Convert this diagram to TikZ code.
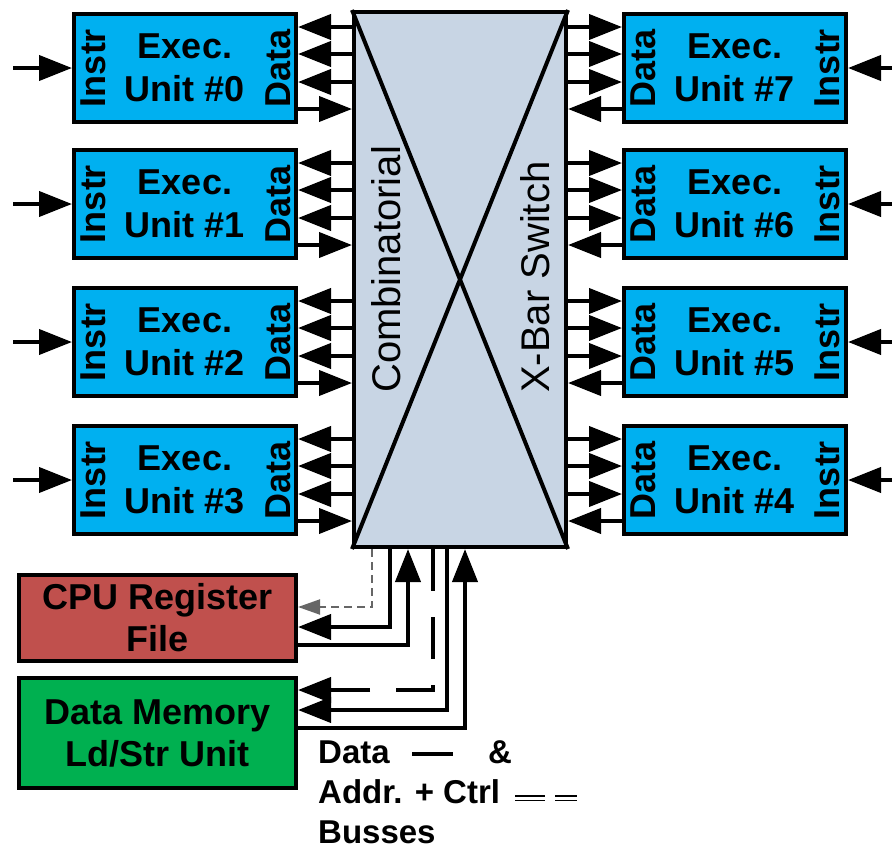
\documentclass[tikz,border=0pt]{standalone}
\usepackage{fontspec}
\setmainfont{Liberation Sans}
\usepackage{xcolor}
\usepackage{tikz}
\usetikzlibrary{arrows.meta,calc,positioning}

\definecolor{unitblue}{RGB}{0,176,240}
\definecolor{xbarfill}{RGB}{200,213,228}
\definecolor{regred}{RGB}{192,80,77}
\definecolor{memgreen}{RGB}{0,176,80}

\tikzset{
    unit/.style={draw, line width=4pt, fill=unitblue, minimum width=222pt, minimum height=108pt,
        inner sep=0pt, align=center, font=\fontsize{36}{43}\selectfont\bfseries},
    side/.style={rotate=90, inner sep=0pt, font=\fontsize{36}{43}\selectfont\bfseries},
    bus/.style={line width=4pt, -{Triangle[length=33pt,width=25pt]}},
    ctrlbus/.style={bus, dash pattern=on 42pt off 26pt},
    thinbus/.style={line width=2pt, black!60, dash pattern=on 8pt off 5pt, -{Triangle[length=22pt,width=15pt]}},
    legend/.style={inner sep=0pt, anchor=base west, font=\fontsize{33}{40}\selectfont\bfseries}
}

\begin{document}
\begin{tikzpicture}[x=1pt, y=-1pt]
    \useasboundingbox (0,0) rectangle (892,849);

    % crossbar
    \node[draw, line width=4pt, fill=xbarfill, minimum width=212pt, minimum height=535pt] (sw) at (460,279.5) {};
    \draw[line width=4pt] (sw.north west) -- (sw.south east) (sw.north east) -- (sw.south west);
    \node[rotate=90, anchor=west, inner sep=0pt, font=\fontsize{40}{46}\selectfont] (swl) at (386,393) {Combinatorial};
    \node[rotate=90, anchor=west, inner sep=0pt, font=\fontsize{40}{46}\selectfont] (swr) at (535,393) {X-Bar Switch};

    % left units
    \foreach \k/\top in {0/12, 1/148, 2/286, 3/424} {
        \node[unit] (u\k) at (185,{\top+56}) {Exec.\\Unit \#\k};
        \node[side] (u\k i) at ($(u\k.west)+(21,0)$) {Instr};
        \node[side] (u\k d) at ($(u\k.east)+(-20,0)$) {Data};
        \coordinate (in\k) at ($(u\k.west)+(-59,0)$);
        \draw[bus] (in\k) -- (u\k.west);
        \foreach \dy in {-41,-14,14} {
            \coordinate (p) at ($(u\k.east)+(0,\dy)$);
            \draw[bus] (sw.west |- p) -- (p);
        }
        \coordinate (p) at ($(u\k.east)+(0,41)$);
        \draw[bus] (p) -- (sw.west |- p);
    }

    % right units
    \foreach \k/\top in {7/12, 6/148, 5/286, 4/424} {
        \node[unit] (u\k) at (735,{\top+56}) {Exec.\\Unit \#\k};
        \node[side] (u\k d) at ($(u\k.west)+(21,0)$) {Data};
        \node[side] (u\k i) at ($(u\k.east)+(-21,0)$) {Instr};
        \coordinate (in\k) at ($(u\k.east)+(48,0)$);
        \draw[bus] (in\k) -- (u\k.east);
        \foreach \dy in {-41,-14,14} {
            \coordinate (p) at ($(u\k.west)+(0,\dy)$);
            \draw[bus] (sw.east |- p) -- (p);
        }
        \coordinate (p) at ($(u\k.west)+(0,41)$);
        \draw[bus] (p) -- (sw.east |- p);
    }

    % register file and load/store unit
    \node[draw, line width=4pt, fill=regred, minimum width=277pt, minimum height=86pt, align=center,
        font=\fontsize{36}{42}\selectfont\bfseries] (rf) at (157.5,618) {CPU Register\\File};
    \node[draw, line width=4pt, fill=memgreen, minimum width=277pt, minimum height=110pt, align=center,
        font=\fontsize{36}{42}\selectfont\bfseries] (dm) at (157.5,733) {Data Memory\\Ld/Str Unit};

    \coordinate (t1) at (372,607);
    \coordinate (t2) at (390,627);
    \coordinate (t3) at (408,645);
    \coordinate (t4) at (433,690);
    \coordinate (t5) at (447,710);
    \coordinate (t6) at (465,728);
    \draw[thinbus] (sw.south -| t1) -- (t1) -- (rf.east |- t1);
    \draw[bus] (sw.south -| t2) -- (t2) -- (rf.east |- t2);
    \draw[bus] (rf.east |- t3) -- (t3) -- (sw.south -| t3);
    \draw[ctrlbus] (sw.south -| t4) -- (t4) -- (dm.east |- t4);
    \draw[bus] (sw.south -| t5) -- (t5) -- (dm.east |- t5);
    \draw[bus] (dm.east |- t6) -- (t6) -- (sw.south -| t6);

    % legend
    \node[legend] (lg1) at (318,763) {Data};
    \node[legend] (lgamp) at (488,763) {\&};
    \node[legend] (lg2) at (318,803) {Addr. + Ctrl};
    \node[legend] (lg3) at (318,843) {Busses};
    \draw[line width=4pt] (412,754) -- (453,754);
    \draw[double, double distance=3pt, line width=1.5pt, dash pattern=on 30pt off 10pt] (515,798) -- (577,798);
\end{tikzpicture}
\end{document}
